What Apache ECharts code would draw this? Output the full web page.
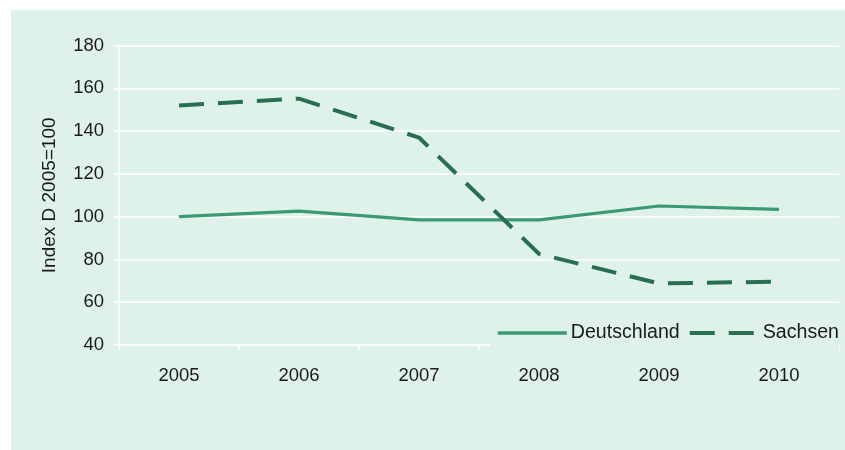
<!DOCTYPE html>
<html>
<head>
<meta charset="utf-8">
<script src="https://cdn.jsdelivr.net/npm/echarts@6/dist/echarts.min.js"></script>
<style>html,body{margin:0;padding:0;background:#fff;}#c{width:845px;height:450px;}</style>
</head>
<body>
<div id="c"></div>
<script>
var years = ['2005', '2006', '2007', '2008', '2009', '2010'];
var deutschland = [100, 102.6, 98.5, 98.5, 105, 103.4];
var sachsen = [152, 155.2, 137, 82.6, 68.8, 69.6];
var yTicks = { min: 40, max: 180, interval: 20 };
var yName = 'Index D 2005=100';

var bg = '#dff2ea';
var font = 'Liberation Sans, Arial, sans-serif';
var chart = echarts.init(document.getElementById('c'));
chart.setOption({
  backgroundColor: '#ffffff',
  animation: false,
  graphic: [{
    type: 'rect', left: 11, top: 10, z: -10,
    shape: { width: 834, height: 440 },
    style: { fill: bg }
  }],
  grid: { left: 119, right: 6, top: 45.6, bottom: 105, containLabel: false },
  xAxis: {
    type: 'category',
    data: years,
    boundaryGap: true,
    axisLine: { show: true, lineStyle: { color: '#ffffff', width: 1.5 } },
    axisTick: { show: true, length: 5, lineStyle: { color: '#ffffff', width: 1.5 } },
    axisLabel: { color: '#1a1a1a', fontSize: 18.5, fontFamily: font, margin: 21 },
    splitLine: { show: false }
  },
  yAxis: {
    type: 'value',
    min: yTicks.min, max: yTicks.max, interval: yTicks.interval,
    name: yName,
    nameLocation: 'middle',
    nameGap: 60,
    nameRotate: 90,
    nameTextStyle: { color: '#1a1a1a', fontSize: 19, fontFamily: font },
    axisLine: { show: true, lineStyle: { color: '#ffffff', width: 1.5 } },
    axisTick: { show: true, length: 5, lineStyle: { color: '#ffffff', width: 1.5 } },
    axisLabel: { color: '#1a1a1a', fontSize: 18.5, fontFamily: font, margin: 15 },
    splitLine: { show: true, lineStyle: { color: '#ffffff', width: 1.5 } }
  },
  legend: {
    right: 6, top: 316,
    backgroundColor: bg,
    padding: [7, 0, 7, 6],
    itemWidth: 69, itemHeight: 14, itemGap: 8,
    itemStyle: { opacity: 0 },
    textStyle: { color: '#1a1a1a', fontSize: 19.6, fontFamily: font, padding: [0, 0, 0, -1] },
    data: [
      { name: 'Deutschland', lineStyle: { width: 3.5 } },
      { name: 'Sachsen', lineStyle: { width: 4 } }
    ]
  },
  series: [{
    name: 'Deutschland', type: 'line', data: deutschland,
    symbol: 'none', smooth: false,
    lineStyle: { color: '#3a9a74', width: 3.2 },
    itemStyle: { color: '#3a9a74' }
  }, {
    name: 'Sachsen', type: 'line', data: sachsen,
    symbol: 'none', smooth: false,
    lineStyle: { color: '#276e52', width: 4, type: [25, 14] },
    itemStyle: { color: '#276e52' }
  }]
});
</script>
</body>
</html>
